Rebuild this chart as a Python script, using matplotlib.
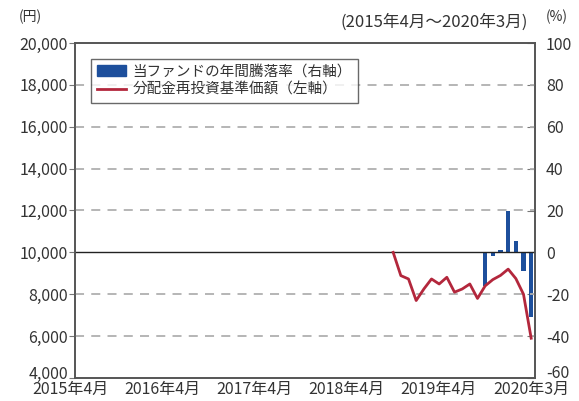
import matplotlib
matplotlib.use("Agg")
import matplotlib.pyplot as plt
import matplotlib.transforms as mtransforms
from matplotlib.patches import Patch
from matplotlib.lines import Line2D
import pandas as pd

plt.rcParams['font.family'] = ['Noto Sans CJK JP', 'DejaVu Sans']

# monthly axis: Apr 2015 .. Mar 2020
months = pd.period_range('2015-04', '2020-03', freq='M')

# NAV with reinvested distributions (left axis, yen)
nav_months = ['2018-09', '2018-10', '2018-11', '2018-12', '2019-01', '2019-02',
              '2019-03', '2019-04', '2019-05', '2019-06', '2019-07', '2019-08',
              '2019-09', '2019-10', '2019-11', '2019-12', '2020-01', '2020-02',
              '2020-03']
nav_values = [10000, 8890, 8730, 7700, 8250, 8730, 8490, 8810, 8100, 8250,
              8490, 7800, 8400, 8700, 8900, 9200, 8750, 8000, 5900]

# annual return (right axis, %)
ret_months = ['2019-09', '2019-10', '2019-11', '2019-12', '2020-01', '2020-02', '2020-03']
ret_values = [-16, -1.8, 1, 20, 5.5, -9, -31]

tick_months = ['2015-04', '2016-04', '2017-04', '2018-04', '2019-04', '2020-03']
tick_labels = ['2015年4月', '2016年4月', '2017年4月', '2018年4月', '2019年4月', '2020年3月']

left_ticks = list(range(4000, 20001, 2000))
right_ticks = list(range(-60, 101, 20))

blue = '#1d4f9c'
red = '#b3273c'
txt = '#333333'


def idx(m):
    return months.get_loc(pd.Period(m, freq='M'))


fig = plt.figure(figsize=(5.79, 4.01), dpi=100)
ax = fig.add_axes([75 / 579, 23 / 401, 460 / 579, 335 / 401])
ax2 = ax.twinx()

ax2.bar([idx(m) for m in ret_months], ret_values, width=0.6, color=blue, zorder=2)
ax.plot([idx(m) for m in nav_months], nav_values, color=red, lw=2, zorder=3)

ax.set_xlim(-0.5, len(months) - 0.5)
ax.set_ylim(4000, 20000)
ax2.set_ylim(-60, 100)

ax.set_zorder(ax2.get_zorder() + 1)
ax.patch.set_visible(False)

# grid lines (dashed) except on the zero line
for v in left_ticks[1:-1]:
    if v == 10000:
        ax.axhline(v, color='#222222', lw=1.0, zorder=1)
    else:
        ax.axhline(v, color='#b0b0b0', lw=1.3, ls=(0, (5, 4)), zorder=1)

ax.set_yticks(left_ticks)
ax.set_yticklabels([f'{v:,}' for v in left_ticks])
ax2.set_yticks(right_ticks)
ax2.set_yticklabels([str(v) for v in right_ticks])

ax.set_xticks([idx(m) for m in tick_months])
ax.set_xticklabels(tick_labels)
ax.tick_params(axis='x', length=0, pad=2, labelsize=11.5, colors=txt)
ax.tick_params(axis='y', direction='out', length=4, pad=1, labelsize=11.5,
               colors=txt, color='#777777')
ax2.tick_params(axis='y', direction='in', length=6, pad=8, labelsize=11.5,
                colors=txt, color='#777777')

# shift the yearly labels a little to the left like the original
shift = mtransforms.ScaledTranslation(-8 / 100, 0, fig.dpi_scale_trans)
for lab in ax.get_xticklabels()[:-1]:
    lab.set_transform(lab.get_transform() + shift)

# lift the bottom-most y labels so they sit above the date labels
lift = mtransforms.ScaledTranslation(0, 6 / 100, fig.dpi_scale_trans)
for lab in (ax.get_yticklabels()[0], ax2.get_yticklabels()[0]):
    lab.set_transform(lab.get_transform() + lift)

for a in (ax, ax2):
    for s in a.spines.values():
        s.set_color('#555555')
        s.set_linewidth(1.2)

handles = [Patch(facecolor=blue, edgecolor=blue),
           Line2D([0], [0], color=red, lw=2)]
leg = ax.legend(handles, ['当ファンドの年間騰落率（右軸）', '分配金再投資基準価額（左軸）'],
                loc='upper left', bbox_to_anchor=(0.02, 0.975), fontsize=10.5,
                frameon=True, fancybox=False, handlelength=2.0, handleheight=0.8,
                borderpad=0.4, labelspacing=0.3, handletextpad=0.4)
leg.get_frame().set_edgecolor('#444444')
leg.get_frame().set_linewidth(1.0)
for t in leg.get_texts():
    t.set_color(txt)

fig.text(30 / 579, 1 - 17 / 401, '(円)', ha='center', va='center', fontsize=10, color=txt)
fig.text(528 / 579, 1 - 22 / 401, '(2015年4月～2020年3月)', ha='right', va='center',
         fontsize=12, color=txt)
fig.text(557 / 579, 1 - 17 / 401, '(%)', ha='center', va='center', fontsize=10, color=txt)

fig.savefig('out.png', dpi=100)
